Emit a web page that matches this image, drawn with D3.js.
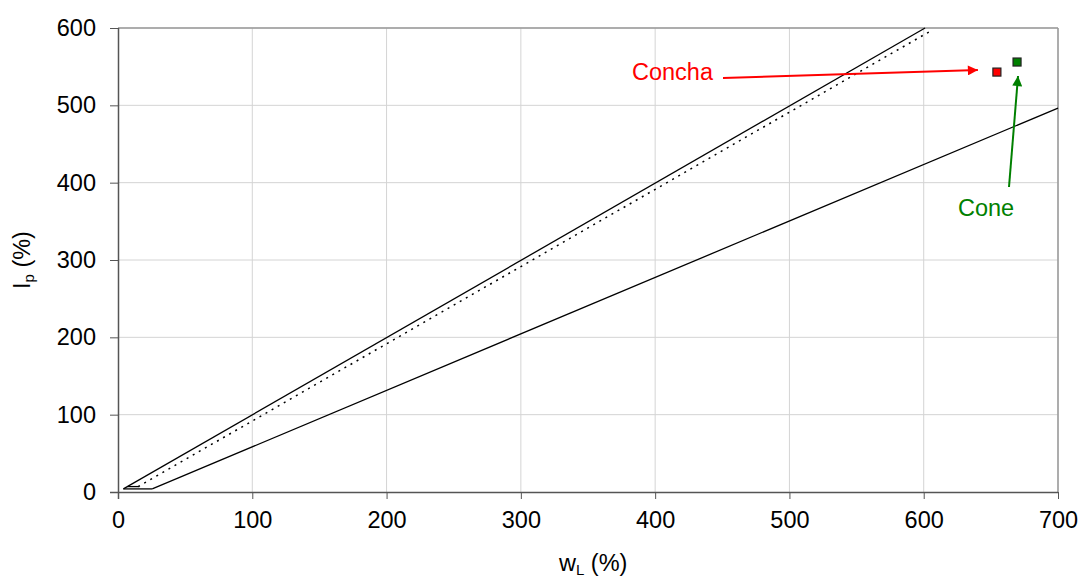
<!DOCTYPE html>
<html>
<head>
<meta charset="utf-8">
<script src="https://cdn.jsdelivr.net/npm/d3@7"></script>
<style>
  body { margin: 0; background: #fff; }
  svg { display: block; font-family: "Liberation Sans", Arial, sans-serif; }
</style>
</head>
<body>
<svg id="chart" width="1084" height="579"></svg>
<script>
// ---- data ----
const xTicks = [0, 100, 200, 300, 400, 500, 600, 700];
const yTicks = [0, 100, 200, 300, 400, 500, 600];
const upperLine = [[4, 4], [601, 600]];          // Ip = wL
const dottedLine = [[15, 7], [606, 597]];        // dotted line
const aLine = [[25.5, 4], [700, 496.5]];         // A-line
const zoneLow = [[4, 4], [25.5, 4]];
const zoneHigh = [[7, 7], [16, 7]];
const pointNames = ["Concha", "Cone"];
const pointX = [654.5, 669.5];
const pointY = [543, 556];
const pointColors = ["#ff0000", "#008000"];

// ---- layout ----
const svg = d3.select("#chart");
const m = { left: 118, right: 1058, top: 28, bottom: 492 };
const x = d3.scaleLinear().domain([0, 700]).range([m.left, m.right]);
const y = d3.scaleLinear().domain([0, 600]).range([m.bottom, m.top]);
const FS = 23.5;

// grid
svg.append("g").selectAll("line.gx").data(xTicks.slice(1)).join("line")
  .attr("x1", d => x(d)).attr("x2", d => x(d))
  .attr("y1", m.top).attr("y2", m.bottom)
  .attr("stroke", "#d4d4d4").attr("stroke-width", 1);
svg.append("g").selectAll("line.gy").data(yTicks.slice(1)).join("line")
  .attr("x1", m.left).attr("x2", m.right)
  .attr("y1", d => y(d)).attr("y2", d => y(d))
  .attr("stroke", "#d4d4d4").attr("stroke-width", 1);
// top & right border
svg.append("line").attr("x1", m.left).attr("x2", m.right).attr("y1", m.top).attr("y2", m.top)
  .attr("stroke", "#999").attr("stroke-width", 1.5);
svg.append("line").attr("x1", m.right).attr("x2", m.right).attr("y1", m.top).attr("y2", m.bottom)
  .attr("stroke", "#999").attr("stroke-width", 1.5);

// axes
const xAxis = d3.axisBottom(x).tickValues(xTicks).tickSize(7).tickPadding(12);
const yAxis = d3.axisLeft(y).tickValues(yTicks).tickSize(8).tickPadding(14);
const gx = svg.append("g").attr("transform", `translate(0,${m.bottom})`).call(xAxis);
const gy = svg.append("g").attr("transform", `translate(${m.left},0)`).call(yAxis);
[gx, gy].forEach(g => {
  g.select(".domain").attr("stroke", "#555").attr("stroke-width", 1.5);
  g.selectAll(".tick line").attr("stroke", "#555");
  g.selectAll(".tick text").attr("font-size", FS).attr("fill", "#000")
    .attr("font-family", "'Liberation Sans', Arial, sans-serif");
});
gx.select(".domain").attr("d", `M${m.left - 8},0.5H${m.right}`);
gy.select(".domain").attr("d", `M0.5,${m.bottom + 7}V${m.top}`);

// lines
const line = d3.line().x(d => x(d[0])).y(d => y(d[1]));
[upperLine, aLine, zoneLow, zoneHigh].forEach(dd => {
  svg.append("path").attr("d", line(dd)).attr("fill", "none")
    .attr("stroke", "#000").attr("stroke-width", 1.3);
});
svg.append("path").attr("d", line(dottedLine)).attr("fill", "none")
  .attr("stroke", "#000").attr("stroke-width", 1.5).attr("stroke-dasharray", "2,5");

// markers
const pts = pointNames.map((n, i) => ({ n, x: pointX[i], y: pointY[i], c: pointColors[i] }));
svg.selectAll("rect.pt").data(pts).join("rect")
  .attr("x", d => x(d.x) - 4).attr("y", d => y(d.y) - 4)
  .attr("width", 8).attr("height", 8)
  .attr("fill", d => d.c).attr("stroke", "#222").attr("stroke-width", 1.2);

// arrows
const defs = svg.append("defs");
pointColors.forEach((c, i) => {
  defs.append("marker").attr("id", "ah" + i).attr("viewBox", "0 0 10 10")
    .attr("refX", 10).attr("refY", 5).attr("markerWidth", 6).attr("markerHeight", 5)
    .attr("orient", "auto").attr("markerUnits", "strokeWidth")
    .append("path").attr("d", "M0,0L10,5L0,10z").attr("fill", c);
});
// Concha arrow
svg.append("line").attr("x1", 723).attr("y1", 78)
  .attr("x2", x(pointX[0]) - 19).attr("y2", y(pointY[0]) - 2)
  .attr("stroke", pointColors[0]).attr("stroke-width", 2).attr("marker-end", "url(#ah0)");
svg.append("text").attr("x", 632).attr("y", 80).text(pointNames[0])
  .attr("fill", pointColors[0]).attr("font-size", FS);
// Cone arrow
svg.append("line").attr("x1", 1009).attr("y1", 187)
  .attr("x2", x(pointX[1]) + 1).attr("y2", y(pointY[1]) + 14)
  .attr("stroke", pointColors[1]).attr("stroke-width", 2).attr("marker-end", "url(#ah1)");
svg.append("text").attr("x", 958).attr("y", 216).text(pointNames[1])
  .attr("fill", pointColors[1]).attr("font-size", FS);

// axis titles
const xt = svg.append("text").attr("x", 559).attr("y", 571).attr("font-size", FS);
xt.append("tspan").text("w");
xt.append("tspan").attr("font-size", 15).attr("dy", 4).text("L");
xt.append("tspan").attr("dy", -4).text(" (%)");
const yt = svg.append("text").attr("transform", "translate(30,289) rotate(-90)").attr("font-size", FS);
yt.append("tspan").text("I");
yt.append("tspan").attr("font-size", 15).attr("dy", 4).text("p");
yt.append("tspan").attr("dy", -4).text(" (%)");
</script>
</body>
</html>
